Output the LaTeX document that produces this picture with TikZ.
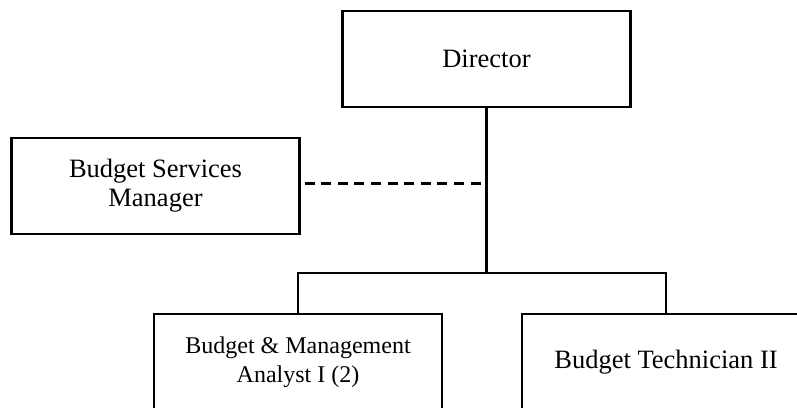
\documentclass[tikz,border=0pt]{standalone}
\usepackage{fontspec}
\setmainfont{Liberation Serif}
\usetikzlibrary{positioning,calc}

\begin{document}
\begin{tikzpicture}[x=1pt,y=-1pt,
  post/.style={draw,line width=2.2pt,minimum width=288pt,minimum height=96pt,
    align=center,font=\fontsize{26.5}{29}\selectfont,inner sep=0pt},
  link/.style={line width=2.2pt}]
  \useasboundingbox (0,0) rectangle (797,407);
  \node[post] (dir) at (486.5,59) {Director};
  \node[post] (bsm) at (155.5,186) {Budget Services\\Manager};
  \node[post,font=\fontsize{24}{29}\selectfont] (bma) at (298,362) {Budget \& Management\\Analyst I (2)};
  \node[post] (bt) at (666,362) {Budget Technician II};
  \coordinate (hub) at (486.5,273);
  \coordinate (tap) at (482.5,183.5);
  \draw[link] (dir.south) -- (hub);
  \draw[link] (bma.north) |- (hub) -| (bt.north);
  % dotted reporting line
  \draw[link,dash pattern=on 10pt off 6.6pt] ($(bsm.east|-tap)+(4,0)$) -- (tap);
\end{tikzpicture}
\end{document}
